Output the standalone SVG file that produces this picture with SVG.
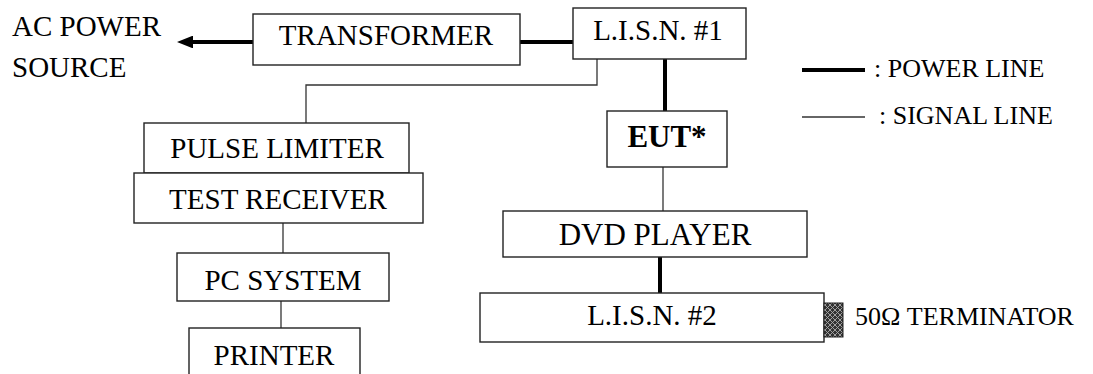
<svg xmlns="http://www.w3.org/2000/svg" width="1093" height="374" viewBox="0 0 1093 374">
<style>
.box{fill:#fff;stroke:#222;stroke-width:1.4}
.t{font-family:"Liberation Serif","Times New Roman",serif;font-size:29px;fill:#000;text-anchor:middle}
.big{font-size:31px}
.lg{font-family:"Liberation Serif","Times New Roman",serif;font-size:26px;fill:#000}
.pw{stroke:#000;stroke-width:4;fill:none}
.sg{stroke:#333;stroke-width:1.3;fill:none}
</style>
<defs>
<marker id="ah" markerWidth="4" markerHeight="3.2" refX="0.25" refY="1.6" orient="auto" markerUnits="strokeWidth">
<path d="M0,0 L4,1.6 L0,3.2 Z" fill="#000"/>
</marker>
<pattern id="hatch" width="5" height="5" patternUnits="userSpaceOnUse">
<rect width="5" height="5" fill="#333"/>
<path d="M0,0 L5,5 M5,0 L0,5" stroke="#aaa" stroke-width="0.9"/>
</pattern>
</defs>
<rect width="1093" height="374" fill="#fff"/>
<g id="connectors">
<line class="pw" x1="253" y1="42" x2="192" y2="42" marker-end="url(#ah)"/>
<line class="pw" x1="520" y1="42" x2="573" y2="42"/>
<line class="pw" x1="665" y1="59" x2="665" y2="111"/>
<line class="pw" x1="660" y1="257" x2="660" y2="293"/>
<polyline class="sg" points="597,59 597,85 306,85 306,123"/>
<line class="sg" x1="663" y1="167" x2="663" y2="211"/>
<line class="sg" x1="283" y1="223" x2="283" y2="253"/>
<line class="sg" x1="281" y1="301" x2="281" y2="328"/>
</g>
<g id="ac-source">
<text class="lg" style="font-size:29px" x="12" y="36">AC POWER</text>
<text class="lg" style="font-size:29px" x="12" y="77">SOURCE</text>
</g>
<g id="transformer">
<rect class="box" x="253" y="14" width="267" height="51"/>
<text class="t" x="386" y="45">TRANSFORMER</text>
</g>
<g id="lisn1">
<rect class="box" x="573" y="8" width="173" height="51"/>
<text class="t" x="658" y="40">L.I.S.N. #1</text>
</g>
<g id="pulse-limiter">
<rect class="box" x="144" y="123" width="265" height="50"/>
<text class="t" x="277" y="158">PULSE LIMITER</text>
</g>
<g id="test-receiver">
<rect class="box" x="134" y="173" width="289" height="50"/>
<text class="t" x="278" y="209">TEST RECEIVER</text>
</g>
<g id="pc-system">
<rect class="box" x="177" y="253" width="212" height="48"/>
<text class="t" x="283" y="290">PC SYSTEM</text>
</g>
<g id="printer">
<rect class="box" x="189" y="328" width="171" height="60"/>
<text class="t" x="274" y="365">PRINTER</text>
</g>
<g id="eut">
<rect class="box" x="607" y="111" width="120" height="56"/>
<text class="t big" x="667" y="147" font-weight="bold">EUT*</text>
</g>
<g id="dvd-player">
<rect class="box" x="503" y="211" width="304" height="46"/>
<text class="t big" x="655" y="245">DVD PLAYER</text>
</g>
<g id="lisn2">
<rect class="box" x="480" y="293" width="344" height="49"/>
<text class="t" x="652" y="325">L.I.S.N. #2</text>
</g>
<g id="terminator">
<rect x="824" y="303" width="19" height="34" fill="url(#hatch)" stroke="#222" stroke-width="1"/>
<text class="lg" x="855" y="325">50Ω TERMINATOR</text>
</g>
<g id="legend">
<line class="pw" x1="802" y1="70" x2="865" y2="70"/>
<text class="lg" x="874" y="77">: POWER LINE</text>
<line class="sg" x1="802" y1="117" x2="865" y2="117"/>
<text class="lg" x="879" y="124">: SIGNAL LINE</text>
</g>
</svg>
